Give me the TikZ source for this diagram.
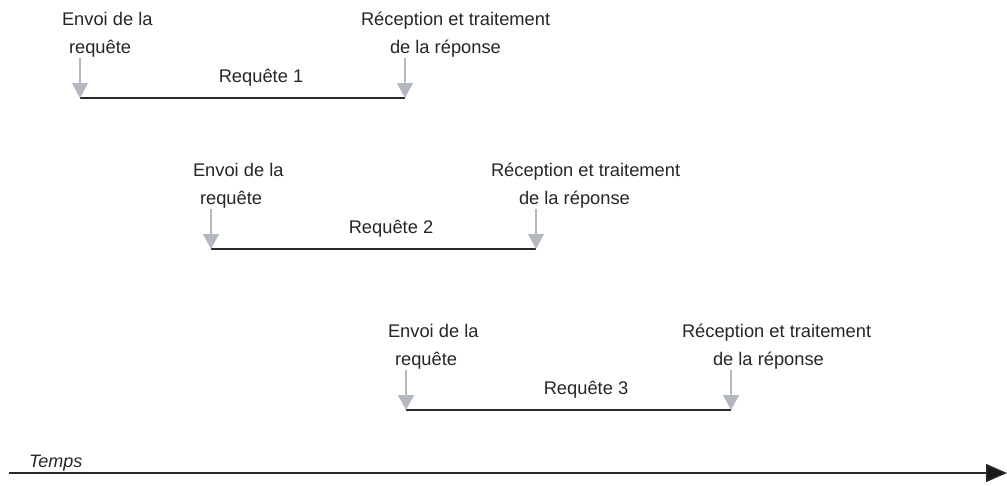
\documentclass[tikz,border=0pt]{standalone}
\usepackage{fontspec}
\setmainfont{Liberation Sans}
\usetikzlibrary{arrows.meta}
\definecolor{tickgrey}{HTML}{B4B8C0}
\definecolor{linedark}{HTML}{2A2A2A}
\tikzset{
  txt/.style={anchor=base west, inner sep=0pt, outer sep=0pt, font=\fontsize{18.3}{22}\selectfont, text=black!85},
  lbl/.style={anchor=base, inner sep=0pt, outer sep=0pt, font=\fontsize{18.3}{22}\selectfont, text=black!85},
  tick/.style={draw=tickgrey, line width=1.4pt, -{Triangle[width=16pt,length=15pt,fill=tickgrey]}, shorten >=0pt},
  span/.style={draw=linedark, line width=1.5pt},
  axis/.style={draw=linedark, line width=1.6pt, -{Triangle[width=18pt,length=21pt,fill=black!90]}},
}
\newcommand{\reqgroup}[6]{% #1 id, #2 dy, #3 xl, #4 xr, #5 x of right text line 1, #6 x of line 2
  \coordinate (#1ta) at (#3,58+#2);
  \coordinate (#1tb) at (#4,58+#2);
  \coordinate (#1s) at (#3,98+#2);
  \coordinate (#1e) at (#4,98+#2);
  \node[txt] (#1l1) at (#3-18,25+#2) {Envoi de la};
  \node[txt] (#1l2) at (#3-11,53+#2) {requête};
  \node[txt] (#1r1) at (#5,25+#2) {Réception et traitement};
  \node[txt] (#1r2) at (#6,53+#2) {de la réponse};
  \draw[span] (#1s) -- (#1e);
  \draw[tick] (#1ta) -- (#1s);
  \draw[tick] (#1tb) -- (#1e);
}
\begin{document}
\begin{tikzpicture}[x=1pt,y=-1pt]
\useasboundingbox (0,0) rectangle (1007,485);
\reqgroup{a}{0}{80}{405}{361}{390}
\node[lbl] (alab) at (261,82) {Requête 1};
\reqgroup{b}{151}{211}{536}{491}{519}
\node[lbl] (blab) at (391,233) {Requête 2};
\reqgroup{c}{312}{406}{731}{682}{713}
\node[lbl] (clab) at (586,394) {Requête 3};
\coordinate (t0) at (9,473);
\coordinate (t1) at (1007,473);
\node[txt, font=\fontsize{18}{22}\selectfont\itshape] (temps) at (29,467) {Temps};
\draw[axis] (t0) -- (t1);
\end{tikzpicture}
\end{document}
